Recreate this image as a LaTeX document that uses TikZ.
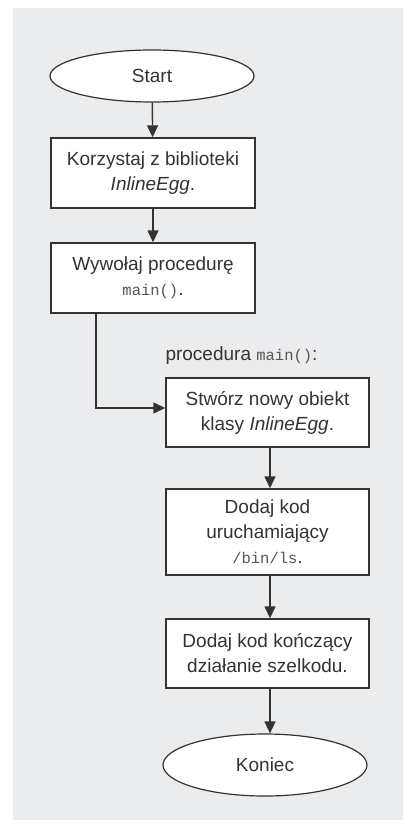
\documentclass[tikz,border=0pt]{standalone}
\usepackage{fontspec}
\setmainfont{Liberation Sans}
\setmonofont{Liberation Mono}
\usetikzlibrary{arrows.meta,shapes.geometric}
\definecolor{panel}{HTML}{EBECEE}
\definecolor{ink}{HTML}{333333}
\definecolor{codegray}{HTML}{555555}
\newcommand{\code}[1]{{\fontsize{15.5}{18}\selectfont\ttfamily\color{codegray}#1}}
\tikzset{
  flowbox/.style={draw=ink, line width=1.4pt, fill=white, minimum width=204pt,
    align=center, inner sep=0pt, text=ink,
    font=\fontsize{19}{25}\selectfont},
  terminal/.style={ellipse, draw=ink, line width=1.2pt, fill=white,
    minimum width=204pt, inner sep=0pt, text=ink,
    font=\fontsize{19}{25}\selectfont},
  flow/.style={draw=ink, line width=1.4pt, -{Triangle[length=12pt,width=11pt]}},
}
\begin{document}
\begin{tikzpicture}[x=1pt,y=-1pt]
  \useasboundingbox (0,0) rectangle (404,821);
  \fill[panel] (13,8) rectangle (403,820);

  \node[terminal, minimum height=52pt] (start) at (152,76) {Start};
  \node[flowbox, minimum height=70pt] (lib) at (153,173)
    {Korzystaj z biblioteki\\\textit{InlineEgg}.};
  \node[flowbox, minimum height=70pt] (call) at (153,278)
    {Wywołaj procedurę\\\code{main()}.};
  \node[text=ink, font=\fontsize{19}{25}\selectfont, anchor=west] (lbl) at (162,356)
    {procedura \code{main()}:};
  \node[flowbox, minimum width=203pt, minimum height=69pt] (obj) at (267.5,412.5)
    {Stwórz nowy obiekt\\klasy \textit{InlineEgg}.};
  \node[flowbox, minimum width=203pt, minimum height=86pt] (ls) at (267.5,532)
    {Dodaj kod\\uruchamiający\\\code{/bin/ls}.};
  \node[flowbox, minimum width=203pt, minimum height=69pt] (exit) at (267.5,653.5)
    {Dodaj kod kończący\\działanie szelkodu.};
  \node[terminal, minimum height=62pt] (end) at (265,765) {Koniec};

  \coordinate (turn) at (96,408);

  \draw[flow] (start) -- (lib);
  \draw[flow] (lib) -- (call);
  \draw[flow] (call.south -| turn) -- (turn) -- (turn -| obj.west);
  \draw[flow] (obj.south -| 270,0) -- (ls.north -| 270,0);
  \draw[flow] (ls.south -| 270,0) -- (exit.north -| 270,0);
  \draw[flow] (exit.south -| 270,0) -- (end.north -| 270,0);
\end{tikzpicture}
\end{document}
